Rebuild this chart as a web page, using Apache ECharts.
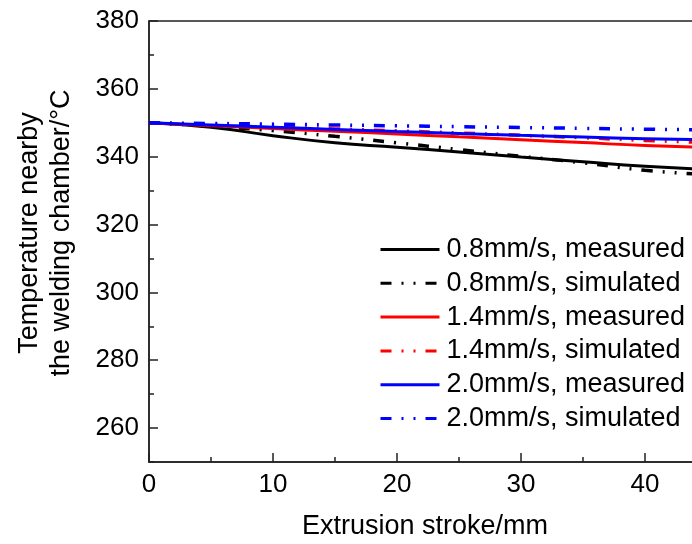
<!DOCTYPE html>
<html>
<head>
<meta charset="utf-8">
<script src="https://cdn.jsdelivr.net/npm/echarts@6/dist/echarts.min.js"></script>
<style>
  html, body { margin: 0; padding: 0; background: #fff; }
  #chart { width: 692px; height: 544px; }
</style>
</head>
<body>
<div id="chart"></div>
<script>
// extrusion stroke (mm)
var stroke = [0, 5, 10, 15, 20, 25, 30, 35, 40, 45]
// temperature (°C)
var v08Measured = [350, 348.7, 346.2, 344.1, 342.8, 341.35, 339.9, 338.5, 337.2, 336.3]
var v08Simulated = [350, 349.0, 347.7, 346.0, 344.1, 342.1, 340.1, 338.2, 336.0, 334.7]
var v14Measured = [350, 349.15, 348.3, 347.5, 346.7, 345.85, 345.0, 344.15, 343.3, 342.8]
var v14Simulated = [350, 349.4, 348.8, 348.2, 347.6, 347.0, 346.3, 345.6, 344.8, 344.2]
var v20Measured = [350, 349.35, 348.7, 348.05, 347.4, 346.85, 346.3, 345.8, 345.3, 345.0]
var v20Simulated = [350, 349.8, 349.6, 349.35, 349.1, 348.85, 348.6, 348.35, 348.1, 347.9]

var yMajor = [260, 280, 300, 320, 340, 360, 380]
var yMinor = [250, 270, 290, 310, 330, 350, 370]

var font = 'Liberation Sans, Arial, sans-serif'
var dashDotDot = [11, 10, 2, 10, 2, 10]

function pairs(ys) {
  return stroke.map(function (x, i) { return [x, ys[i]] })
}

function line(name, ys, color, simulated) {
  return {
    name: name,
    type: 'line',
    data: pairs(ys),
    smooth: true,
    symbol: 'none',
    xAxisIndex: 0,
    yAxisIndex: 0,
    lineStyle: {
      color: color,
      width: simulated ? 3.5 : 3,
      type: simulated ? dashDotDot : 'solid'
    },
    itemStyle: { color: color }
  }
}

var chart = echarts.init(document.getElementById('chart'))
chart.setOption({
  animation: false,
  grid: {
    left: 149,
    top: 21,
    width: 620, // right frame falls outside the picture, as in the original
    height: 441,
    outerBoundsMode: 'none',
    show: true,
    borderColor: '#222',
    borderWidth: 1.5,
    backgroundColor: 'transparent'
  },
  xAxis: {
    type: 'value',
    min: 0,
    max: 50,
    interval: 10,
    axisLine: { lineStyle: { color: '#222', width: 1.5 } },
    axisTick: { inside: true, length: 9, lineStyle: { color: '#222', width: 1.5 } },
    minorTick: { show: true, splitNumber: 2, length: 5, lineStyle: { color: '#222', width: 1.5 } },
    splitLine: { show: false },
    axisLabel: { color: '#000', fontSize: 26, fontFamily: font, margin: 10 }
  },
  yAxis: [
    {
      type: 'value',
      min: 250,
      max: 380,
      axisLine: { show: true, lineStyle: { color: '#222', width: 1.5 } },
      axisTick: { inside: true, length: 9, customValues: yMajor, lineStyle: { color: '#222', width: 1.5 } },
      splitLine: { show: false },
      axisLabel: { color: '#000', fontSize: 26, fontFamily: font, margin: 10, customValues: yMajor }
    },
    {
      // minor ticks only
      type: 'value',
      min: 250,
      max: 380,
      position: 'left',
      axisLine: { show: false },
      axisTick: { show: true, inside: true, length: 5, customValues: yMinor, lineStyle: { color: '#222', width: 1.5 } },
      splitLine: { show: false },
      axisLabel: { show: false }
    }
  ],
  legend: {
    orient: 'vertical',
    left: 374,
    top: 231,
    itemWidth: 59,
    itemHeight: 14,
    itemGap: 6.8,
    itemStyle: { opacity: 0 },
    lineStyle: { width: 3 },
    textStyle: { color: '#000', fontSize: 27, fontFamily: font, lineHeight: 26, padding: [0, 0, 0, 2] },
    data: [
      '0.8mm/s, measured', '0.8mm/s, simulated',
      '1.4mm/s, measured', '1.4mm/s, simulated',
      '2.0mm/s, measured', '2.0mm/s, simulated'
    ]
  },
  graphic: [
    {
      type: 'text',
      x: 425,
      y: 527,
      style: {
        text: 'Extrusion stroke/mm',
        fontSize: 27,
        fontFamily: font,
        fill: '#000',
        align: 'center',
        verticalAlign: 'middle'
      }
    },
    {
      type: 'text',
      x: 46,
      y: 233,
      rotation: Math.PI / 2,
      style: {
        text: 'Temperature nearby\nthe welding chamber/°C',
        fontSize: 27,
        fontFamily: font,
        lineHeight: 32,
        fill: '#000',
        align: 'center',
        verticalAlign: 'middle'
      }
    }
  ],
  series: [
    line('0.8mm/s, measured', v08Measured, '#000000', false),
    line('0.8mm/s, simulated', v08Simulated, '#000000', true),
    line('1.4mm/s, measured', v14Measured, '#ff0000', false),
    line('1.4mm/s, simulated', v14Simulated, '#ff0000', true),
    line('2.0mm/s, measured', v20Measured, '#0000ff', false),
    line('2.0mm/s, simulated', v20Simulated, '#0000ff', true)
  ]
})
</script>
</body>
</html>
